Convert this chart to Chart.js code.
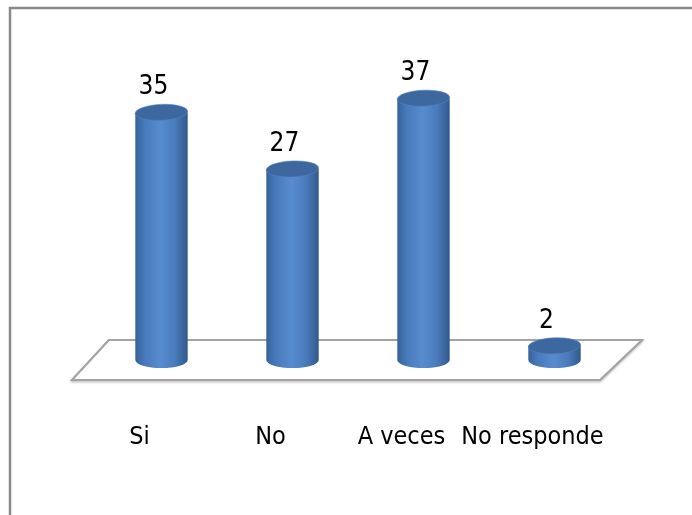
<!DOCTYPE html>
<html>
<head>
<meta charset="utf-8">
<script src="https://cdn.jsdelivr.net/npm/chart.js@4/dist/chart.umd.min.js"></script>
<style>
  html, body { margin: 0; padding: 0; background: #ffffff; }
  #wrap { width: 692px; height: 515px; position: relative; }
</style>
</head>
<body>
<div id="wrap"><canvas id="c" width="692" height="515"></canvas></div>
<script>
const categories = ['Si', 'No', 'A veces', 'No responde'];
const values = [35, 27, 37, 2];
const yMax = 40;

const FONT = "'Liberation Sans Narrow', 'DejaVu Sans Condensed', 'Open Sans', sans-serif";
const RY = 8;
const BAR_PCT = 0.4;

function bodyGradient(ctx, x, w) {
  const g = ctx.createLinearGradient(x - w / 2, 0, x + w / 2, 0);
  g.addColorStop(0, '#37629b');
  g.addColorStop(0.18, '#477abb');
  g.addColorStop(0.48, '#578cd0');
  g.addColorStop(0.75, '#4a7cbc');
  g.addColorStop(1, '#32598c');
  return g;
}

const framePlugin = {
  id: 'frame',
  beforeDraw(chart) {
    const ctx = chart.ctx;
    ctx.save();
    ctx.strokeStyle = '#8a8a8a';
    ctx.lineWidth = 2.5;
    ctx.beginPath();
    ctx.moveTo(10, 515);
    ctx.lineTo(10, 8);
    ctx.lineTo(692, 8);
    ctx.stroke();
    ctx.restore();
  }
};

const floorPlugin = {
  id: 'floor',
  beforeDatasetsDraw(chart) {
    const { ctx, chartArea: a } = chart;
    const b = chart.scales.y.getPixelForValue(0);
    ctx.save();
    ctx.beginPath();
    ctx.moveTo(a.left + 13, b - 20);
    ctx.lineTo(a.right + 22, b - 20);
    ctx.lineTo(a.right - 20, b + 20);
    ctx.lineTo(a.left - 24, b + 20);
    ctx.closePath();
    ctx.fillStyle = '#ffffff';
    ctx.shadowColor = 'rgba(0,0,0,0.25)';
    ctx.shadowOffsetY = 1.5;
    ctx.shadowBlur = 2;
    ctx.strokeStyle = '#a3a3a3';
    ctx.lineWidth = 2;
    ctx.stroke();
    ctx.shadowColor = 'transparent';
    ctx.fill();
    ctx.stroke();
    ctx.restore();
  }
};

const cylinderPlugin = {
  id: 'cylinders',
  afterDatasetsDraw(chart) {
    const ctx = chart.ctx;
    const meta = chart.getDatasetMeta(0);
    meta.data.forEach((bar, i) => {
      const { x, y, base, width } = bar.getProps(['x', 'y', 'base', 'width'], true);
      const rx = width / 2;
      ctx.save();
      ctx.beginPath();
      ctx.ellipse(x, base, rx, RY, 0, 0, Math.PI);
      ctx.fillStyle = bodyGradient(ctx, x, width);
      ctx.fill();
      ctx.beginPath();
      ctx.ellipse(x, y, rx, RY, -0.04, 0, Math.PI * 2);
      ctx.fillStyle = '#3d689f';
      ctx.fill();
      ctx.strokeStyle = 'rgba(90,130,190,0.6)';
      ctx.lineWidth = 1;
      ctx.stroke();
      ctx.fillStyle = '#000000';
      ctx.font = '26px ' + FONT;
      ctx.textAlign = 'center';
      ctx.textBaseline = 'alphabetic';
      ctx.fillText(String(values[i]), x - 8, y - RY - 10);
      ctx.restore();
    });
  }
};

new Chart(document.getElementById('c'), {
  type: 'bar',
  data: {
    labels: categories,
    datasets: [{
      data: values,
      barPercentage: BAR_PCT,
      categoryPercentage: 1,
      borderWidth: 0,
      backgroundColor: (c) => {
        const chart = c.chart;
        if (!chart.chartArea || !chart.scales.x) return '#4f81bd';
        const x = chart.scales.x.getPixelForValue(c.dataIndex);
        const w = chart.chartArea.width / categories.length * BAR_PCT;
        return bodyGradient(chart.ctx, x, w);
      }
    }]
  },
  options: {
    responsive: false,
    animation: false,
    devicePixelRatio: 1,
    layout: { padding: { left: 96, right: 72, top: 77, bottom: 0 } },
    plugins: { legend: { display: false }, tooltip: { enabled: false } },
    scales: {
      x: {
        grid: { display: false, drawTicks: false },
        border: { display: false },
        ticks: {
          color: '#000000',
          font: { family: FONT, size: 25, lineHeight: 1 },
          padding: 65,
          labelOffset: -22,
          maxRotation: 0,
          autoSkip: false
        },
        afterFit: (s) => { s.paddingLeft = 0; s.paddingRight = 0; }
      },
      y: { display: false, min: 0, max: yMax }
    }
  },
  plugins: [framePlugin, floorPlugin, cylinderPlugin]
});
</script>
</body>
</html>
